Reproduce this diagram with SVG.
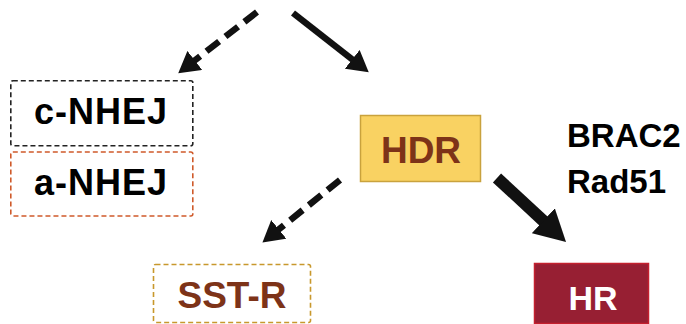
<svg xmlns="http://www.w3.org/2000/svg" width="686" height="324" viewBox="0 0 686 324">
<style>
text{font-family:"Liberation Sans",Arial,Helvetica,sans-serif;font-weight:bold;text-anchor:middle}
.dbox{fill:#fff;stroke-width:1.6;stroke-dasharray:5,3}
.conn{fill:none;stroke:#111;stroke-linecap:butt}
.dash{stroke-dasharray:16,8}
</style>
<defs>
<marker id="ah" markerUnits="userSpaceOnUse" markerWidth="22" markerHeight="24" refX="1" refY="12" orient="auto">
<path d="M0,0 L21,12 L0,24 Z" fill="#111"/>
</marker>
<marker id="ahl" markerUnits="userSpaceOnUse" markerWidth="32" markerHeight="34" refX="1" refY="17" orient="auto">
<path d="M0,0 L31,17 L0,34 Z" fill="#111"/>
</marker>
</defs>
<g id="connectors">
<line class="conn dash" x1="257" y1="12" x2="194" y2="61" stroke-width="6.5" marker-end="url(#ah)"/>
<line class="conn" x1="293" y1="13" x2="353" y2="60" stroke-width="6.5" marker-end="url(#ah)"/>
<line class="conn dash" x1="340" y1="180" x2="278" y2="230" stroke-width="6.5" marker-end="url(#ah)"/>
<line class="conn" x1="497" y1="178" x2="544" y2="221.5" stroke-width="12" marker-end="url(#ahl)"/>
</g>
<g id="c-NHEJ">
<rect class="dbox" x="10.8" y="80.8" width="182" height="65" rx="2" stroke="#222"/>
<text x="101" y="124" font-size="36" letter-spacing="1" fill="#000">c-NHEJ</text>
</g>
<g id="a-NHEJ">
<rect class="dbox" x="10.8" y="152" width="182" height="64" rx="2" stroke="#cf5a2a"/>
<text x="101" y="195" font-size="36" letter-spacing="1" fill="#000">a-NHEJ</text>
</g>
<g id="HDR">
<rect x="360.5" y="115.5" width="120" height="66" fill="#f9d262" stroke="#c9a23d" stroke-width="1.5"/>
<text x="421" y="163" font-size="37" fill="#7d3318">HDR</text>
</g>
<g id="BRAC2-Rad51">
<text x="567" y="147" font-size="33" fill="#000" style="text-anchor:start">BRAC2</text>
<text x="567" y="193" font-size="33" fill="#000" style="text-anchor:start">Rad51</text>
</g>
<g id="SST-R">
<rect class="dbox" x="153.5" y="264.5" width="157" height="58" rx="2" stroke="#c8982c"/>
<text x="232" y="308" font-size="37" fill="#7d3318">SST-R</text>
</g>
<g id="HR">
<rect x="534.5" y="263.5" width="114" height="60" fill="#971f33" stroke="#c4202f" stroke-width="1.5"/>
<text x="593" y="310" font-size="34" fill="#fff">HR</text>
</g>
</svg>
